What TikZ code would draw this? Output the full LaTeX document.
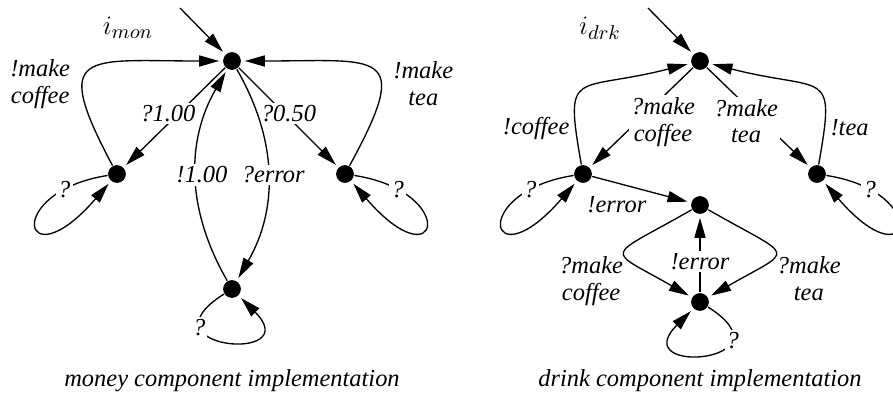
\documentclass[tikz,border=0pt]{standalone}
\usepackage{fontspec}
\setmainfont{Liberation Serif}
\usetikzlibrary{arrows.meta}
\usetikzlibrary{positioning}

\begin{document}
\begin{tikzpicture}[x=0.45pt,y=0.45pt,line width=0.6pt,
    every node/.style={font=\fontsize{11}{12}\selectfont\itshape},
    state/.style={circle,fill=black,inner sep=0pt,minimum size=8pt},
    lbl/.style={align=center,inner sep=1pt},
    onlbl/.style={lbl,fill=white},
    initlbl/.style={font=\fontsize{12.5}{14}\selectfont},
    >={Triangle[length=9pt,width=5pt]},
    tr/.style={->,shorten >=1.5pt}]
  \useasboundingbox (0,0) rectangle (893,393);

  % money component
  \node[state] (mtop) at (232,332) {};
  \node[state] (mcoffee) at (117,219) {};
  \node[state] (mtea) at (345,219) {};
  \node[state] (mbroke) at (232,104) {};
  \coordinate (mstart) at (180,385);
  \node[initlbl] (mname) at (128,365) {$i_{mon}$};

  \draw[tr] (mstart) -- (mtop);
  \draw[tr] (mtop) -- node[onlbl,xshift=-3pt,yshift=2pt] (lpay1) {?1.00} (mcoffee);
  \draw[tr] (mtop) -- node[onlbl,yshift=2pt] (lpay2) {?0.50} (mtea);
  \draw[tr] (mcoffee) .. controls (50,345) and (85,332) .. (mtop)
    node[lbl,pos=.35,left=4.5pt] (lmkc) {!make\\coffee};
  \draw[tr] (mtea) .. controls (414,345) and (379,332) .. (mtop)
    node[lbl,pos=.35,right=4.5pt] (lmkt) {!make\\tea};
  \draw[tr] (mbroke) to[out=120,in=240] node[onlbl,xshift=2.5pt] (lrefund) {!1.00} (mtop);
  \draw[tr] (mtop) to[out=-60,in=60] node[onlbl,xshift=2.5pt] (lerr) {?error} (mbroke);
  % loops
  \draw[tr] (mcoffee) .. controls (2,201) and (22,109) .. (mcoffee)
    node[onlbl,pos=.17] (lq1) {?};
  \draw[tr] (mtea) .. controls (460,201) and (440,109) .. (mtea)
    node[onlbl,pos=.17] (lq2) {?};
  \draw[tr] (mbroke) .. controls (137,44) and (307,29) .. (mbroke)
    node[onlbl,pos=.25] (lq3) {?};
  \node (mcap) at (232,12) {money component implementation};

  % drink component
  \node[state] (dtop) at (700,332) {};
  \node[state] (dcoffee) at (583,219) {};
  \node[state] (dtea) at (817,219) {};
  \node[state] (dbroke) at (700,188) {};
  \node[state] (dreq) at (700,91) {};
  \coordinate (dstart) at (648,385);
  \node[initlbl] (dname) at (600,365) {$i_{drk}$};

  \draw[tr] (dstart) -- (dtop);
  \draw[tr] (dtop) -- node[onlbl,xshift=9.7pt,yshift=-2pt] (lmc) {?make\\coffee} (dcoffee);
  \draw[tr] (dtop) -- node[onlbl,xshift=-5.6pt,yshift=-1.6pt] (lmt) {?make\\tea} (dtea);
  \draw[tr] (dcoffee) .. controls (564,327) and (574,300) .. (dtop)
    node[lbl,pos=.15,left=1.5pt] (lgc) {!coffee};
  \draw[tr] (dtea) .. controls (836,327) and (826,300) .. (dtop)
    node[lbl,pos=.15,right=1.5pt] (lgt) {!tea};
  \draw[tr] (dcoffee) -- node[lbl,pos=.25,below=5pt] (lerr1) {!error} (dbroke);
  \draw[tr] (dbroke) .. controls (604,133) and (604,146) .. (dreq)
    node[lbl,pos=.5,anchor=north east] (lmc2) {?make\\coffee};
  \draw[tr] (dbroke) .. controls (796,133) and (796,146) .. (dreq)
    node[lbl,pos=.5,anchor=north west] (lmt2) {?make\\tea};
  \draw[tr] (dreq) -- node[onlbl,pos=.4] (lerr2) {!error} (dbroke);
  % loops
  \draw[tr] (dcoffee) .. controls (468,201) and (488,109) .. (dcoffee)
    node[onlbl,pos=.17] (lq4) {?};
  \draw[tr] (dtea) .. controls (932,201) and (912,109) .. (dtea)
    node[onlbl,pos=.17] (lq5) {?};
  \draw[tr] (dreq) .. controls (795,31) and (625,16) .. (dreq)
    node[onlbl,pos=.25] (lq6) {?};
  \node (dcap) at (700,12) {drink component implementation};
\end{tikzpicture}
\end{document}
